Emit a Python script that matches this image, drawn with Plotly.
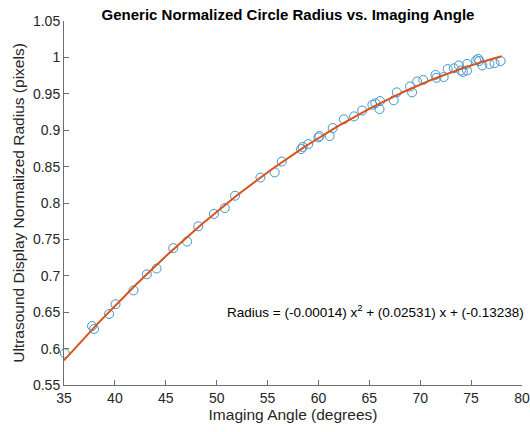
import numpy as np
import plotly.graph_objects as go

angle = [35.08, 37.76, 37.96, 39.43, 40.06, 41.83, 43.14, 44.1, 45.73, 47.1, 48.19, 49.73,
         50.8, 51.8, 54.3, 55.7, 56.4, 58.3, 58.45, 59.0, 60.0, 60.1, 61.1, 61.4, 62.5,
         63.5, 64.3, 65.3, 65.6, 66.0, 66.05, 67.4, 67.7, 69.0, 69.2, 69.7, 70.3, 71.5,
         71.6, 72.3, 72.7, 73.3, 73.8, 74.0, 74.2, 74.6, 74.6, 75.5, 75.7, 75.8, 76.1,
         76.8, 77.3, 77.9]
radius = [0.5935, 0.631, 0.627, 0.6475, 0.661, 0.680, 0.702, 0.710, 0.738, 0.747, 0.768, 0.785,
          0.793, 0.81, 0.835, 0.842, 0.857, 0.874, 0.877, 0.881, 0.890, 0.892, 0.892, 0.903, 0.915,
          0.919, 0.927, 0.935, 0.937, 0.929, 0.940, 0.941, 0.952, 0.960, 0.952, 0.967, 0.969, 0.976,
          0.972, 0.973, 0.984, 0.985, 0.989, 0.982, 0.980, 0.982, 0.991, 0.996, 0.998, 0.995, 0.989,
          0.991, 0.992, 0.995]

x_ticks = [35, 40, 45, 50, 55, 60, 65, 70, 75, 80]
y_ticks = [0.55, 0.6, 0.65, 0.7, 0.75, 0.8, 0.85, 0.9, 0.95, 1, 1.05]
eq_text = "Radius = (-0.00014) x<sup>2</sup> + (0.02531) x + (-0.13238)"

coef = np.polyfit(angle, radius, 2)
fit_x = np.linspace(35, 78, 200)
fit_y = np.polyval(coef, fit_x)

fig = go.Figure()
fig.add_trace(go.Scatter(x=angle, y=radius, mode="markers",
                         marker=dict(symbol="circle-open", size=9, color="#0072BD",
                                     line=dict(width=1, color="#0072BD")),
                         opacity=0.75, showlegend=False, cliponaxis=False))
fig.add_trace(go.Scatter(x=fit_x, y=fit_y, mode="lines",
                         line=dict(color="#D95319", width=2), showlegend=False))

axis_common = dict(showline=True, linecolor="#6e6e6e", linewidth=1, ticks="inside",
                   ticklen=5, tickcolor="#6e6e6e", showgrid=False, zeroline=False,
                   mirror=False, automargin=False, tickfont=dict(size=14, color="#262626"))
fig.update_xaxes(range=[35, 80], tickvals=x_ticks,
                 title=dict(text="Imaging Angle (degrees)", font=dict(size=15.5, color="#262626"), standoff=4),
                 **axis_common)
fig.update_yaxes(range=[0.55, 1.05], tickvals=y_ticks,
                 title=dict(text="Ultrasound Display Normalized Radius (pixels)", font=dict(size=15.5, color="#262626"), standoff=4),
                 **axis_common)

fig.add_annotation(x=80, y=0.652, xref="x", yref="y", xshift=4, text=eq_text, showarrow=False,
                   xanchor="right", yanchor="middle", font=dict(size=13.5, color="#000000"))

fig.update_layout(
    width=530, height=432,
    margin=dict(l=64, r=8, t=21, b=47),
    plot_bgcolor="white", paper_bgcolor="white",
    font=dict(family="Liberation Sans, Arial, sans-serif"),
    title=dict(text="<b>Generic Normalized Circle Radius vs. Imaging Angle</b>",
               x=288 / 530, xanchor="center", y=1 - 15 / 432, yanchor="middle",
               font=dict(size=15, color="#000000")),
)

fig.write_html("out.html")
